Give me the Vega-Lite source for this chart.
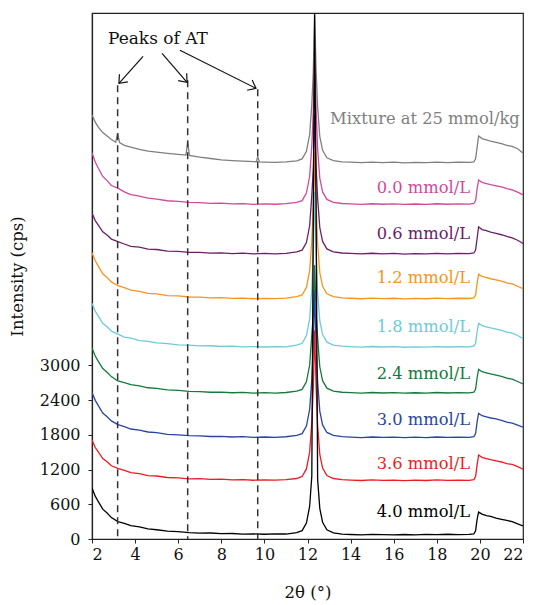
{
"$schema":"https://vega.github.io/schema/vega-lite/v6.json",
"width":431,"height":526,
"autosize":{"type":"none"},
"padding":{"left":92,"top":13,"right":11,"bottom":66},
"background":"white",
"config":{"font":"DejaVu Serif","view":{"stroke":"#222","strokeWidth":1.2},
"text":{"font":"DejaVu Serif"},
"axis":{"grid":false,"domainColor":"#222","tickColor":"#222","labelColor":"#111","titleColor":"#111","labelFont":"DejaVu Serif","titleFont":"DejaVu Serif","labelFontSize":16,"titleFontSize":16.5,"titleFontWeight":"normal","tickSize":4,"domainWidth":1.2}},
"datasets":{
"curves":[
{"s":"g","x":2,"y":7325},{"s":"g","x":2.15,"y":7200},{"s":"g","x":2.3,"y":7110},{"s":"g","x":2.5,"y":7020},{"s":"g","x":2.7,"y":6960},{"s":"g","x":2.9,"y":6900},{"s":"g","x":3.1,"y":6852},{"s":"g","x":3.19,"y":7010},{"s":"g","x":3.28,"y":6845},{"s":"g","x":3.5,"y":6800},{"s":"g","x":3.8,"y":6770},{"s":"g","x":4.2,"y":6730},{"s":"g","x":4.6,"y":6700},{"s":"g","x":5,"y":6682},{"s":"g","x":5.5,"y":6660},{"s":"g","x":6,"y":6642},{"s":"g","x":6.36,"y":6630},{"s":"g","x":6.44,"y":6860},{"s":"g","x":6.52,"y":6625},{"s":"g","x":7,"y":6595},{"s":"g","x":7.5,"y":6572},{"s":"g","x":8,"y":6548},{"s":"g","x":8.5,"y":6535},{"s":"g","x":9,"y":6525},{"s":"g","x":9.5,"y":6518},{"s":"g","x":9.62,"y":6515},{"s":"g","x":9.69,"y":6600},{"s":"g","x":9.77,"y":6514},{"s":"g","x":10,"y":6510},{"s":"g","x":10.5,"y":6505},{"s":"g","x":11,"y":6512},{"s":"g","x":11.5,"y":6530},{"s":"g","x":11.75,"y":6565},{"s":"g","x":11.95,"y":6695},{"s":"g","x":12.1,"y":6985},{"s":"g","x":12.2,"y":7505},{"s":"g","x":12.27,"y":8083},{"s":"g","x":12.33,"y":9050},{"s":"g","x":12.4,"y":8083},{"s":"g","x":12.47,"y":7455},{"s":"g","x":12.57,"y":6955},{"s":"g","x":12.7,"y":6715},{"s":"g","x":12.9,"y":6585},{"s":"g","x":13.2,"y":6535},{"s":"g","x":13.6,"y":6515},{"s":"g","x":14,"y":6508},{"s":"g","x":14.5,"y":6500},{"s":"g","x":15,"y":6510},{"s":"g","x":15.5,"y":6502},{"s":"g","x":16,"y":6508},{"s":"g","x":16.5,"y":6498},{"s":"g","x":17,"y":6506},{"s":"g","x":17.5,"y":6500},{"s":"g","x":18,"y":6510},{"s":"g","x":18.5,"y":6502},{"s":"g","x":19,"y":6508},{"s":"g","x":19.5,"y":6504},{"s":"g","x":19.72,"y":6515},{"s":"g","x":19.8,"y":6565},{"s":"g","x":19.87,"y":6765},{"s":"g","x":19.94,"y":6960},{"s":"g","x":20.1,"y":6915},{"s":"g","x":20.3,"y":6895},{"s":"g","x":20.5,"y":6870},{"s":"g","x":20.75,"y":6850},{"s":"g","x":21,"y":6830},{"s":"g","x":21.25,"y":6800},{"s":"g","x":21.5,"y":6780},{"s":"g","x":21.75,"y":6740},{"s":"g","x":22,"y":6665},
{"s":"m","x":2,"y":6670},{"s":"m","x":2.15,"y":6510},{"s":"m","x":2.3,"y":6400},{"s":"m","x":2.5,"y":6262},{"s":"m","x":2.7,"y":6190},{"s":"m","x":2.9,"y":6105},{"s":"m","x":3.2,"y":6060},{"s":"m","x":3.5,"y":5995},{"s":"m","x":3.8,"y":5948},{"s":"m","x":4.2,"y":5922},{"s":"m","x":4.6,"y":5886},{"s":"m","x":5,"y":5872},{"s":"m","x":5.5,"y":5842},{"s":"m","x":6,"y":5832},{"s":"m","x":6.5,"y":5814},{"s":"m","x":7,"y":5810},{"s":"m","x":7.5,"y":5797},{"s":"m","x":8,"y":5800},{"s":"m","x":8.5,"y":5787},{"s":"m","x":9,"y":5793},{"s":"m","x":9.5,"y":5780},{"s":"m","x":10,"y":5788},{"s":"m","x":10.5,"y":5782},{"s":"m","x":11,"y":5792},{"s":"m","x":11.5,"y":5815},{"s":"m","x":11.75,"y":5845},{"s":"m","x":11.95,"y":5975},{"s":"m","x":12.1,"y":6265},{"s":"m","x":12.2,"y":6785},{"s":"m","x":12.27,"y":7406},{"s":"m","x":12.33,"y":8400},{"s":"m","x":12.4,"y":7406},{"s":"m","x":12.47,"y":6735},{"s":"m","x":12.57,"y":6235},{"s":"m","x":12.7,"y":5995},{"s":"m","x":12.9,"y":5865},{"s":"m","x":13.2,"y":5815},{"s":"m","x":13.6,"y":5795},{"s":"m","x":14,"y":5788},{"s":"m","x":14.5,"y":5780},{"s":"m","x":15,"y":5790},{"s":"m","x":15.5,"y":5782},{"s":"m","x":16,"y":5788},{"s":"m","x":16.5,"y":5778},{"s":"m","x":17,"y":5786},{"s":"m","x":17.5,"y":5780},{"s":"m","x":18,"y":5790},{"s":"m","x":18.5,"y":5782},{"s":"m","x":19,"y":5788},{"s":"m","x":19.5,"y":5784},{"s":"m","x":19.72,"y":5795},{"s":"m","x":19.8,"y":5845},{"s":"m","x":19.87,"y":6045},{"s":"m","x":19.94,"y":6200},{"s":"m","x":20.1,"y":6160},{"s":"m","x":20.3,"y":6140},{"s":"m","x":20.5,"y":6120},{"s":"m","x":20.75,"y":6100},{"s":"m","x":21,"y":6080},{"s":"m","x":21.25,"y":6050},{"s":"m","x":21.5,"y":6030},{"s":"m","x":21.75,"y":5990},{"s":"m","x":22,"y":5945},
{"s":"p","x":2,"y":5630},{"s":"p","x":2.15,"y":5500},{"s":"p","x":2.3,"y":5418},{"s":"p","x":2.5,"y":5305},{"s":"p","x":2.7,"y":5250},{"s":"p","x":2.9,"y":5180},{"s":"p","x":3.2,"y":5135},{"s":"p","x":3.5,"y":5095},{"s":"p","x":3.8,"y":5055},{"s":"p","x":4.2,"y":5040},{"s":"p","x":4.6,"y":5008},{"s":"p","x":5,"y":5000},{"s":"p","x":5.5,"y":4972},{"s":"p","x":6,"y":4968},{"s":"p","x":6.5,"y":4952},{"s":"p","x":7,"y":4950},{"s":"p","x":7.5,"y":4938},{"s":"p","x":8,"y":4942},{"s":"p","x":8.5,"y":4930},{"s":"p","x":9,"y":4936},{"s":"p","x":9.5,"y":4925},{"s":"p","x":10,"y":4932},{"s":"p","x":10.5,"y":4926},{"s":"p","x":11,"y":4935},{"s":"p","x":11.5,"y":4960},{"s":"p","x":11.75,"y":4990},{"s":"p","x":11.95,"y":5120},{"s":"p","x":12.1,"y":5410},{"s":"p","x":12.2,"y":5930},{"s":"p","x":12.27,"y":6418},{"s":"p","x":12.33,"y":7330},{"s":"p","x":12.4,"y":6418},{"s":"p","x":12.47,"y":5880},{"s":"p","x":12.57,"y":5380},{"s":"p","x":12.7,"y":5140},{"s":"p","x":12.9,"y":5010},{"s":"p","x":13.2,"y":4960},{"s":"p","x":13.6,"y":4940},{"s":"p","x":14,"y":4932},{"s":"p","x":14.5,"y":4925},{"s":"p","x":15,"y":4935},{"s":"p","x":15.5,"y":4926},{"s":"p","x":16,"y":4932},{"s":"p","x":16.5,"y":4922},{"s":"p","x":17,"y":4930},{"s":"p","x":17.5,"y":4924},{"s":"p","x":18,"y":4934},{"s":"p","x":18.5,"y":4926},{"s":"p","x":19,"y":4932},{"s":"p","x":19.5,"y":4928},{"s":"p","x":19.72,"y":4940},{"s":"p","x":19.8,"y":4990},{"s":"p","x":19.87,"y":5190},{"s":"p","x":19.94,"y":5390},{"s":"p","x":20.1,"y":5345},{"s":"p","x":20.3,"y":5325},{"s":"p","x":20.5,"y":5300},{"s":"p","x":20.75,"y":5280},{"s":"p","x":21,"y":5255},{"s":"p","x":21.25,"y":5225},{"s":"p","x":21.5,"y":5200},{"s":"p","x":21.75,"y":5160},{"s":"p","x":22,"y":5105},
{"s":"o","x":2,"y":4945},{"s":"o","x":2.15,"y":4805},{"s":"o","x":2.3,"y":4708},{"s":"o","x":2.5,"y":4582},{"s":"o","x":2.7,"y":4518},{"s":"o","x":2.9,"y":4440},{"s":"o","x":3.2,"y":4375},{"s":"o","x":3.5,"y":4342},{"s":"o","x":3.8,"y":4300},{"s":"o","x":4.2,"y":4278},{"s":"o","x":4.6,"y":4244},{"s":"o","x":5,"y":4234},{"s":"o","x":5.5,"y":4204},{"s":"o","x":6,"y":4198},{"s":"o","x":6.5,"y":4180},{"s":"o","x":7,"y":4178},{"s":"o","x":7.5,"y":4166},{"s":"o","x":8,"y":4168},{"s":"o","x":8.5,"y":4156},{"s":"o","x":9,"y":4162},{"s":"o","x":9.5,"y":4150},{"s":"o","x":10,"y":4157},{"s":"o","x":10.5,"y":4152},{"s":"o","x":11,"y":4160},{"s":"o","x":11.5,"y":4185},{"s":"o","x":11.75,"y":4215},{"s":"o","x":11.95,"y":4345},{"s":"o","x":12.1,"y":4635},{"s":"o","x":12.2,"y":5155},{"s":"o","x":12.27,"y":5745},{"s":"o","x":12.33,"y":6720},{"s":"o","x":12.4,"y":5745},{"s":"o","x":12.47,"y":5105},{"s":"o","x":12.57,"y":4605},{"s":"o","x":12.7,"y":4365},{"s":"o","x":12.9,"y":4235},{"s":"o","x":13.2,"y":4185},{"s":"o","x":13.6,"y":4165},{"s":"o","x":14,"y":4158},{"s":"o","x":14.5,"y":4150},{"s":"o","x":15,"y":4160},{"s":"o","x":15.5,"y":4152},{"s":"o","x":16,"y":4158},{"s":"o","x":16.5,"y":4148},{"s":"o","x":17,"y":4156},{"s":"o","x":17.5,"y":4150},{"s":"o","x":18,"y":4160},{"s":"o","x":18.5,"y":4152},{"s":"o","x":19,"y":4158},{"s":"o","x":19.5,"y":4154},{"s":"o","x":19.72,"y":4165},{"s":"o","x":19.8,"y":4215},{"s":"o","x":19.87,"y":4415},{"s":"o","x":19.94,"y":4575},{"s":"o","x":20.1,"y":4535},{"s":"o","x":20.3,"y":4515},{"s":"o","x":20.5,"y":4495},{"s":"o","x":20.75,"y":4475},{"s":"o","x":21,"y":4455},{"s":"o","x":21.25,"y":4425},{"s":"o","x":21.5,"y":4405},{"s":"o","x":21.75,"y":4365},{"s":"o","x":22,"y":4325},
{"s":"c","x":2,"y":4070},{"s":"c","x":2.15,"y":3935},{"s":"c","x":2.3,"y":3845},{"s":"c","x":2.5,"y":3725},{"s":"c","x":2.7,"y":3665},{"s":"c","x":2.9,"y":3590},{"s":"c","x":3.2,"y":3540},{"s":"c","x":3.5,"y":3488},{"s":"c","x":3.8,"y":3468},{"s":"c","x":4.2,"y":3428},{"s":"c","x":4.6,"y":3414},{"s":"c","x":5,"y":3386},{"s":"c","x":5.5,"y":3376},{"s":"c","x":6,"y":3352},{"s":"c","x":6.5,"y":3348},{"s":"c","x":7,"y":3334},{"s":"c","x":7.5,"y":3338},{"s":"c","x":8,"y":3325},{"s":"c","x":8.5,"y":3330},{"s":"c","x":9,"y":3318},{"s":"c","x":9.5,"y":3324},{"s":"c","x":10,"y":3316},{"s":"c","x":10.5,"y":3322},{"s":"c","x":11,"y":3320},{"s":"c","x":11.5,"y":3350},{"s":"c","x":11.75,"y":3380},{"s":"c","x":11.95,"y":3510},{"s":"c","x":12.1,"y":3800},{"s":"c","x":12.2,"y":4320},{"s":"c","x":12.27,"y":4982},{"s":"c","x":12.33,"y":6000},{"s":"c","x":12.4,"y":4982},{"s":"c","x":12.47,"y":4270},{"s":"c","x":12.57,"y":3770},{"s":"c","x":12.7,"y":3530},{"s":"c","x":12.9,"y":3400},{"s":"c","x":13.2,"y":3350},{"s":"c","x":13.6,"y":3330},{"s":"c","x":14,"y":3322},{"s":"c","x":14.5,"y":3315},{"s":"c","x":15,"y":3325},{"s":"c","x":15.5,"y":3316},{"s":"c","x":16,"y":3322},{"s":"c","x":16.5,"y":3312},{"s":"c","x":17,"y":3320},{"s":"c","x":17.5,"y":3314},{"s":"c","x":18,"y":3324},{"s":"c","x":18.5,"y":3316},{"s":"c","x":19,"y":3322},{"s":"c","x":19.5,"y":3318},{"s":"c","x":19.72,"y":3330},{"s":"c","x":19.8,"y":3380},{"s":"c","x":19.87,"y":3580},{"s":"c","x":19.94,"y":3725},{"s":"c","x":20.1,"y":3685},{"s":"c","x":20.3,"y":3665},{"s":"c","x":20.5,"y":3645},{"s":"c","x":20.75,"y":3625},{"s":"c","x":21,"y":3605},{"s":"c","x":21.25,"y":3575},{"s":"c","x":21.5,"y":3555},{"s":"c","x":21.75,"y":3515},{"s":"c","x":22,"y":3465},
{"s":"e","x":2,"y":3300},{"s":"e","x":2.15,"y":3160},{"s":"e","x":2.3,"y":3065},{"s":"e","x":2.5,"y":2945},{"s":"e","x":2.7,"y":2880},{"s":"e","x":2.9,"y":2805},{"s":"e","x":3.2,"y":2730},{"s":"e","x":3.5,"y":2700},{"s":"e","x":3.8,"y":2668},{"s":"e","x":4.2,"y":2645},{"s":"e","x":4.6,"y":2612},{"s":"e","x":5,"y":2602},{"s":"e","x":5.5,"y":2574},{"s":"e","x":6,"y":2566},{"s":"e","x":6.5,"y":2550},{"s":"e","x":7,"y":2547},{"s":"e","x":7.5,"y":2535},{"s":"e","x":8,"y":2538},{"s":"e","x":8.5,"y":2526},{"s":"e","x":9,"y":2532},{"s":"e","x":9.5,"y":2520},{"s":"e","x":10,"y":2527},{"s":"e","x":10.5,"y":2520},{"s":"e","x":11,"y":2530},{"s":"e","x":11.5,"y":2555},{"s":"e","x":11.75,"y":2585},{"s":"e","x":11.95,"y":2715},{"s":"e","x":12.1,"y":3005},{"s":"e","x":12.2,"y":3525},{"s":"e","x":12.27,"y":3892},{"s":"e","x":12.33,"y":4730},{"s":"e","x":12.4,"y":3892},{"s":"e","x":12.47,"y":3475},{"s":"e","x":12.57,"y":2975},{"s":"e","x":12.7,"y":2735},{"s":"e","x":12.9,"y":2605},{"s":"e","x":13.2,"y":2555},{"s":"e","x":13.6,"y":2535},{"s":"e","x":14,"y":2528},{"s":"e","x":14.5,"y":2520},{"s":"e","x":15,"y":2530},{"s":"e","x":15.5,"y":2522},{"s":"e","x":16,"y":2528},{"s":"e","x":16.5,"y":2518},{"s":"e","x":17,"y":2526},{"s":"e","x":17.5,"y":2520},{"s":"e","x":18,"y":2530},{"s":"e","x":18.5,"y":2522},{"s":"e","x":19,"y":2527},{"s":"e","x":19.5,"y":2523},{"s":"e","x":19.72,"y":2535},{"s":"e","x":19.8,"y":2585},{"s":"e","x":19.87,"y":2785},{"s":"e","x":19.94,"y":2930},{"s":"e","x":20.1,"y":2890},{"s":"e","x":20.3,"y":2870},{"s":"e","x":20.5,"y":2850},{"s":"e","x":20.75,"y":2830},{"s":"e","x":21,"y":2810},{"s":"e","x":21.25,"y":2780},{"s":"e","x":21.5,"y":2760},{"s":"e","x":21.75,"y":2720},{"s":"e","x":22,"y":2680},
{"s":"b","x":2,"y":2530},{"s":"b","x":2.15,"y":2395},{"s":"b","x":2.3,"y":2300},{"s":"b","x":2.5,"y":2175},{"s":"b","x":2.7,"y":2110},{"s":"b","x":2.9,"y":2040},{"s":"b","x":3.2,"y":1975},{"s":"b","x":3.5,"y":1940},{"s":"b","x":3.8,"y":1900},{"s":"b","x":4.2,"y":1880},{"s":"b","x":4.6,"y":1848},{"s":"b","x":5,"y":1836},{"s":"b","x":5.5,"y":1808},{"s":"b","x":6,"y":1800},{"s":"b","x":6.5,"y":1785},{"s":"b","x":7,"y":1782},{"s":"b","x":7.5,"y":1770},{"s":"b","x":8,"y":1774},{"s":"b","x":8.5,"y":1762},{"s":"b","x":9,"y":1768},{"s":"b","x":9.5,"y":1755},{"s":"b","x":10,"y":1762},{"s":"b","x":10.5,"y":1756},{"s":"b","x":11,"y":1766},{"s":"b","x":11.5,"y":1790},{"s":"b","x":11.75,"y":1820},{"s":"b","x":11.95,"y":1950},{"s":"b","x":12.1,"y":2240},{"s":"b","x":12.2,"y":2760},{"s":"b","x":12.27,"y":3335},{"s":"b","x":12.33,"y":4300},{"s":"b","x":12.4,"y":3335},{"s":"b","x":12.47,"y":2710},{"s":"b","x":12.57,"y":2210},{"s":"b","x":12.7,"y":1970},{"s":"b","x":12.9,"y":1840},{"s":"b","x":13.2,"y":1790},{"s":"b","x":13.6,"y":1768},{"s":"b","x":14,"y":1760},{"s":"b","x":14.5,"y":1752},{"s":"b","x":15,"y":1762},{"s":"b","x":15.5,"y":1754},{"s":"b","x":16,"y":1760},{"s":"b","x":16.5,"y":1750},{"s":"b","x":17,"y":1758},{"s":"b","x":17.5,"y":1752},{"s":"b","x":18,"y":1762},{"s":"b","x":18.5,"y":1755},{"s":"b","x":19,"y":1760},{"s":"b","x":19.5,"y":1756},{"s":"b","x":19.72,"y":1768},{"s":"b","x":19.8,"y":1820},{"s":"b","x":19.87,"y":2020},{"s":"b","x":19.94,"y":2170},{"s":"b","x":20.1,"y":2130},{"s":"b","x":20.3,"y":2110},{"s":"b","x":20.5,"y":2090},{"s":"b","x":20.75,"y":2075},{"s":"b","x":21,"y":2050},{"s":"b","x":21.25,"y":2020},{"s":"b","x":21.5,"y":2000},{"s":"b","x":21.75,"y":1965},{"s":"b","x":22,"y":1930},
{"s":"r","x":2,"y":1710},{"s":"r","x":2.15,"y":1580},{"s":"r","x":2.3,"y":1500},{"s":"r","x":2.5,"y":1390},{"s":"r","x":2.7,"y":1335},{"s":"r","x":2.9,"y":1265},{"s":"r","x":3.2,"y":1220},{"s":"r","x":3.5,"y":1185},{"s":"r","x":3.8,"y":1145},{"s":"r","x":4.2,"y":1128},{"s":"r","x":4.6,"y":1095},{"s":"r","x":5,"y":1088},{"s":"r","x":5.5,"y":1062},{"s":"r","x":6,"y":1056},{"s":"r","x":6.5,"y":1040},{"s":"r","x":7,"y":1042},{"s":"r","x":7.5,"y":1030},{"s":"r","x":8,"y":1033},{"s":"r","x":8.5,"y":1020},{"s":"r","x":9,"y":1026},{"s":"r","x":9.5,"y":1015},{"s":"r","x":10,"y":1022},{"s":"r","x":10.5,"y":1016},{"s":"r","x":11,"y":1025},{"s":"r","x":11.5,"y":1045},{"s":"r","x":11.75,"y":1080},{"s":"r","x":11.95,"y":1210},{"s":"r","x":12.1,"y":1500},{"s":"r","x":12.2,"y":2020},{"s":"r","x":12.27,"y":2620},{"s":"r","x":12.33,"y":3600},{"s":"r","x":12.4,"y":2620},{"s":"r","x":12.47,"y":1960},{"s":"r","x":12.57,"y":1460},{"s":"r","x":12.7,"y":1225},{"s":"r","x":12.9,"y":1095},{"s":"r","x":13.2,"y":1045},{"s":"r","x":13.6,"y":1025},{"s":"r","x":14,"y":1018},{"s":"r","x":14.5,"y":1010},{"s":"r","x":15,"y":1020},{"s":"r","x":15.5,"y":1012},{"s":"r","x":16,"y":1016},{"s":"r","x":16.5,"y":1008},{"s":"r","x":17,"y":1018},{"s":"r","x":17.5,"y":1010},{"s":"r","x":18,"y":1020},{"s":"r","x":18.5,"y":1012},{"s":"r","x":19,"y":1018},{"s":"r","x":19.5,"y":1014},{"s":"r","x":19.72,"y":1025},{"s":"r","x":19.8,"y":1080},{"s":"r","x":19.87,"y":1280},{"s":"r","x":19.94,"y":1450},{"s":"r","x":20.1,"y":1410},{"s":"r","x":20.3,"y":1390},{"s":"r","x":20.5,"y":1370},{"s":"r","x":20.75,"y":1350},{"s":"r","x":21,"y":1330},{"s":"r","x":21.25,"y":1300},{"s":"r","x":21.5,"y":1290},{"s":"r","x":21.75,"y":1250},{"s":"r","x":22,"y":1205},
{"s":"k","x":2,"y":880},{"s":"k","x":2.15,"y":740},{"s":"k","x":2.3,"y":640},{"s":"k","x":2.5,"y":515},{"s":"k","x":2.7,"y":450},{"s":"k","x":2.9,"y":370},{"s":"k","x":3.2,"y":300},{"s":"k","x":3.5,"y":270},{"s":"k","x":3.8,"y":230},{"s":"k","x":4.2,"y":210},{"s":"k","x":4.6,"y":175},{"s":"k","x":5,"y":160},{"s":"k","x":5.5,"y":135},{"s":"k","x":6,"y":128},{"s":"k","x":6.5,"y":110},{"s":"k","x":7,"y":100},{"s":"k","x":7.5,"y":104},{"s":"k","x":8,"y":92},{"s":"k","x":8.5,"y":95},{"s":"k","x":9,"y":84},{"s":"k","x":9.5,"y":88},{"s":"k","x":10,"y":82},{"s":"k","x":10.5,"y":88},{"s":"k","x":11,"y":86},{"s":"k","x":11.5,"y":110},{"s":"k","x":11.75,"y":145},{"s":"k","x":11.95,"y":275},{"s":"k","x":12.1,"y":565},{"s":"k","x":12.2,"y":1085},{"s":"k","x":12.27,"y":5660},{"s":"k","x":12.33,"y":9080},{"s":"k","x":12.4,"y":5660},{"s":"k","x":12.47,"y":1030},{"s":"k","x":12.57,"y":530},{"s":"k","x":12.7,"y":290},{"s":"k","x":12.9,"y":160},{"s":"k","x":13.2,"y":105},{"s":"k","x":13.6,"y":85},{"s":"k","x":14,"y":78},{"s":"k","x":14.5,"y":72},{"s":"k","x":15,"y":80},{"s":"k","x":15.5,"y":74},{"s":"k","x":16,"y":70},{"s":"k","x":16.5,"y":78},{"s":"k","x":17,"y":72},{"s":"k","x":17.5,"y":80},{"s":"k","x":18,"y":74},{"s":"k","x":18.5,"y":82},{"s":"k","x":19,"y":76},{"s":"k","x":19.5,"y":80},{"s":"k","x":19.72,"y":90},{"s":"k","x":19.8,"y":140},{"s":"k","x":19.87,"y":340},{"s":"k","x":19.94,"y":465},{"s":"k","x":20.1,"y":430},{"s":"k","x":20.3,"y":405},{"s":"k","x":20.5,"y":390},{"s":"k","x":20.75,"y":360},{"s":"k","x":21,"y":340},{"s":"k","x":21.25,"y":320},{"s":"k","x":21.5,"y":300},{"s":"k","x":21.75,"y":260},{"s":"k","x":22,"y":225}
],
"labels":[
{"s":"g","t":"Mixture at 25 mmol/kg","x":21.85,"y":7171},
{"s":"m","t":"0.0 mmol/L","x":19.54,"y":5971},
{"s":"p","t":"0.6 mmol/L","x":19.54,"y":5176},
{"s":"o","t":"1.2 mmol/L","x":19.54,"y":4416},
{"s":"c","t":"1.8 mmol/L","x":19.54,"y":3575},
{"s":"e","t":"2.4 mmol/L","x":19.54,"y":2758},
{"s":"b","t":"3.0 mmol/L","x":19.54,"y":1964},
{"s":"r","t":"3.6 mmol/L","x":19.54,"y":1204},
{"s":"k","t":"4.0 mmol/L","x":19.54,"y":373}
],
"dashes":[{"x":3.19,"y":7835},{"x":6.44,"y":7922},{"x":9.69,"y":7767}],
"shafts":[{"x":4.37,"y":8337,"x2":3.25,"y2":7870},{"x":5.25,"y":8389,"x2":6.41,"y2":7888},{"x":6.08,"y":8441,"x2":9.61,"y2":7784}],
"heads":[{"x":3.25,"y":7870,"a":41.6},{"x":6.41,"y":7888,"a":319.2},{"x":9.61,"y":7784,"a":296.6}],
"note":[{"x":5.06,"y":8558,"t":"Peaks of AT"}]
},
"encoding":{
"x":{"field":"x","type":"quantitative","scale":{"domain":[2,22],"nice":false,"zero":false},"axis":{"title":"2θ (°)","values":[2,4,6,8,10,12,14,16,18,20,22],"format":"d","labelPadding":3,"titlePadding":22}},
"y":{"field":"y","type":"quantitative","scale":{"domain":[0,9085],"nice":false,"zero":false},"axis":{"title":"Intensity (cps)","values":[0,600,1200,1800,2400,3000],"format":"d","labelPadding":8,"titlePadding":14}}
},
"layer":[
{"data":{"name":"curves"},"mark":{"type":"line","strokeWidth":1.3,"clip":true},
"encoding":{"color":{"field":"s","type":"nominal","scale":{"domain":["g","m","p","o","c","e","b","r","k"],"range":["#7f7f7f","#d1499b","#6b2069","#f7941d","#6dcbd8","#127a3b","#2a45a0","#ed1c24","#000000"]},"legend":null}}},
{"data":{"name":"dashes"},"mark":{"type":"rule","strokeDash":[7,5],"strokeWidth":1.5,"color":"#333"},
"encoding":{"y2":{"datum":0}}},
{"data":{"name":"labels"},"mark":{"type":"text","align":"right","baseline":"alphabetic","fontSize":16.3,"font":"DejaVu Serif"},
"encoding":{"text":{"field":"t"},"color":{"field":"s","type":"nominal","scale":{"domain":["g","m","p","o","c","e","b","r","k"],"range":["#7f7f7f","#d1499b","#6b2069","#f7941d","#6dcbd8","#127a3b","#2a45a0","#ed1c24","#000000"]},"legend":null}}},
{"data":{"name":"shafts"},"mark":{"type":"rule","color":"#111","strokeWidth":1.2},
"encoding":{"x2":{"field":"x2"},"y2":{"field":"y2"}}},
{"data":{"name":"heads"},"mark":{"type":"point","shape":"M -0.8 -1 L 0 0 L 0.8 -1","filled":false,"size":200,"color":"#111","strokeWidth":1.2,"opacity":1},
"encoding":{"angle":{"field":"a","type":"quantitative","scale":null}}},
{"data":{"name":"note"},"mark":{"type":"text","align":"center","baseline":"alphabetic","fontSize":17,"font":"DejaVu Serif","color":"#111"},
"encoding":{"text":{"field":"t"}}}
]
}
